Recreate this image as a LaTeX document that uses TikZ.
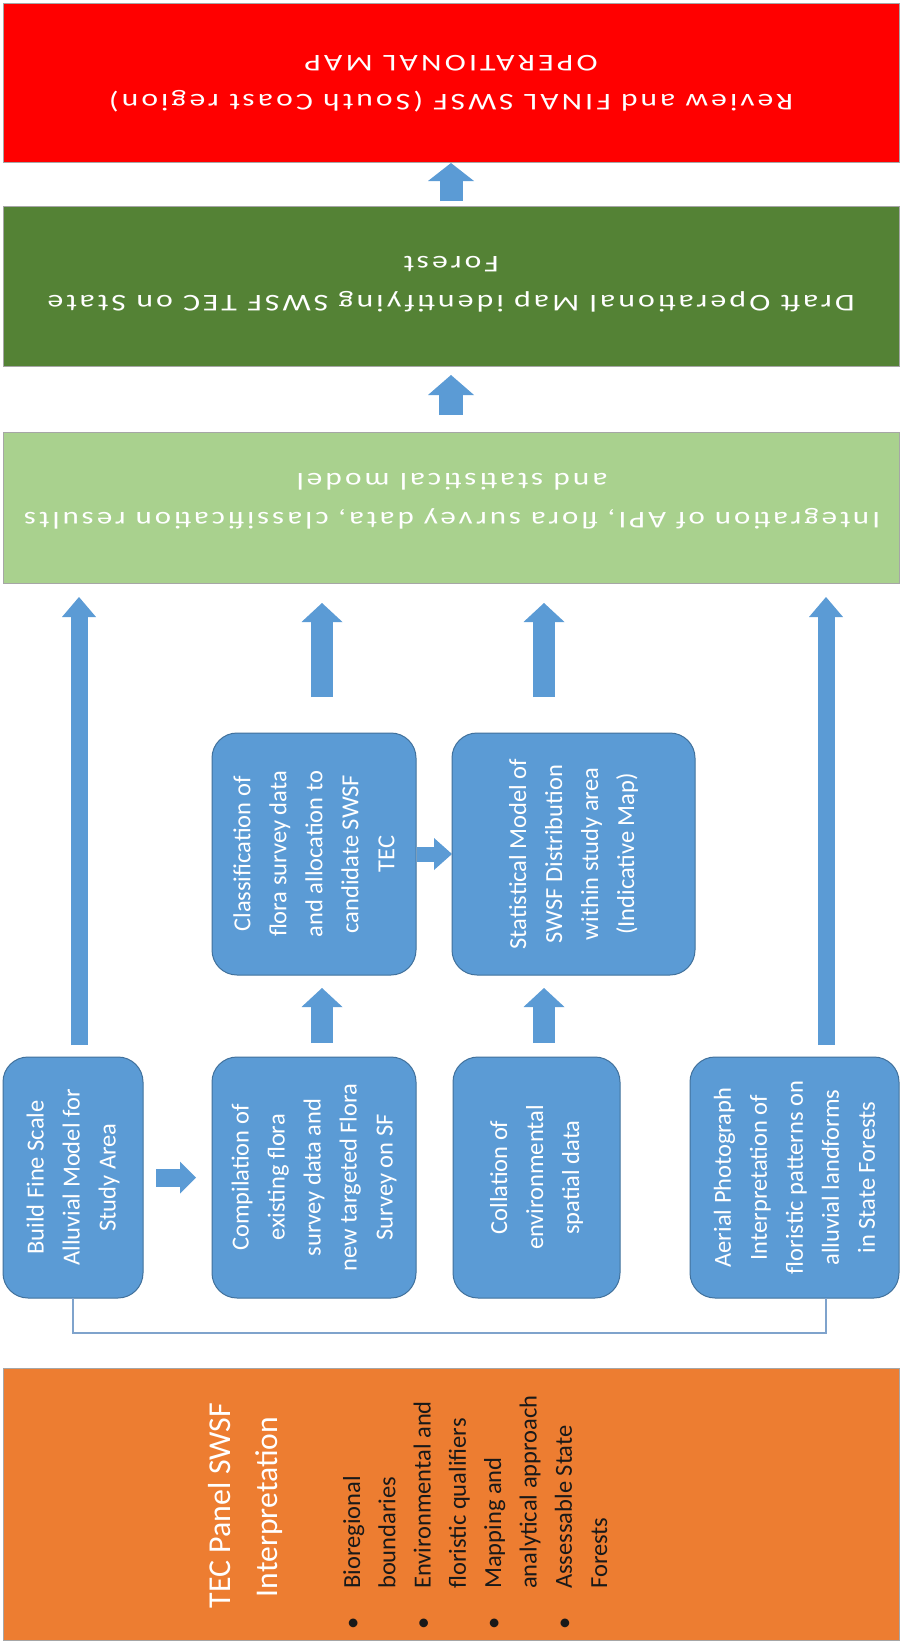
\documentclass[tikz,border=0pt]{standalone}
\usepackage{graphicx}
\usepackage{fontspec}
\setmainfont{Carlito}
\newfontfamily\topfont[LetterSpace=10]{Carlito}
\usetikzlibrary{arrows.meta,calc}
\definecolor{sblue}{HTML}{5B9BD5}
\definecolor{sblueb}{HTML}{41719C}
\definecolor{sred}{HTML}{FF0000}
\definecolor{sgreen}{HTML}{548235}
\definecolor{slgreen}{HTML}{A9D18E}
\definecolor{sorange}{HTML}{ED7D31}
\definecolor{sline}{HTML}{7FA3CC}
\newcommand\wl[2]{\resizebox{#1pt}{\height}{#2}}
\newcommand\bul{\makebox[0pt][c]{•}\hspace*{35pt}}
\newcommand\ind{\hspace*{35pt}}
\begin{document}
\begin{tikzpicture}[x=1pt,y=-1pt,
  topbox/.style={draw=black!35, line width=1pt, inner sep=0pt, outer sep=0pt},
  bluebox/.style={draw=sblueb, fill=sblue, line width=1pt, rounded corners=25pt, inner sep=0pt, outer sep=0pt},
  toptext/.style={rotate=180, text=white, inner sep=0pt, font=\topfont\fontsize{24}{39}\selectfont},
  btext/.style={rotate=90, text=white, align=center, inner sep=0pt, font=\fontsize{24.5}{36}\selectfont},
  ttext/.style={rotate=90, anchor=base, text=white, inner sep=0pt, font=\fontsize{31.5}{38}\selectfont},
  barrow/.style n args={3}{draw=sblue, line width=#1pt, -{Triangle[width=#2pt,length=#3pt,line width=0pt]}},
  conn/.style={draw=sline, line width=1.2pt}]
\fill[white] (0,0) rectangle (902,1642);
\useasboundingbox (0,0) rectangle (902,1642);

% top boxes
\node[topbox, fill=sred, minimum width=896pt, minimum height=159pt] (red) at (451,82.5) {};
\node[topbox, fill=sgreen, minimum width=896pt, minimum height=160pt] (green) at (451,286) {};
\node[topbox, fill=slgreen, minimum width=896pt, minimum height=151pt] (lgreen) at (451,507.5) {};
\node[toptext] (redt) at (451,83) {\begin{tabular}{@{}c@{}}\wl{684}{Review and FINAL SWSF (South Coast region)}\\ \wl{293}{OPERATIONAL MAP}\end{tabular}};
\node[toptext] (greent) at (451,284) {\begin{tabular}{@{}c@{}}\wl{807}{Draft Operational Map identifying SWSF TEC on State}\\ \wl{95}{Forest}\end{tabular}};
\node[toptext] (lgreent) at (452,501) {\begin{tabular}{@{}c@{}}\wl{856}{Integration of API, flora survey data, classification results}\\ \wl{311}{and statistical model}\end{tabular}};

% blue boxes
\node[bluebox, minimum width=204pt, minimum height=242pt] (class) at (314,854) {};
\node[bluebox, minimum width=243pt, minimum height=242pt] (stat) at (573.5,854) {};
\node[bluebox, minimum width=140pt, minimum height=241pt] (build) at (73,1177.5) {};
\node[bluebox, minimum width=204pt, minimum height=241pt] (compil) at (314,1177.5) {};
\node[bluebox, minimum width=167pt, minimum height=241pt] (collat) at (536.5,1177.5) {};
\node[bluebox, minimum width=209pt, minimum height=241pt] (aerial) at (794.5,1177.5) {};

\node[btext] (classt) at (class) {Classification of\\flora survey data\\and allocation to\\candidate SWSF\\TEC};
\node[btext] (statt) at (stat) {Statistical Model of\\SWSF Distribution\\within study area\\(Indicative Map)};
\node[btext] (buildt) at (build) {Build Fine Scale\\Alluvial Model for\\Study Area};
\node[btext] (compilt) at (compil) {Compilation of\\existing flora\\survey data and\\new targeted Flora\\Survey on SF};
\node[btext] (collatt) at (collat) {Collation of\\environmental\\spatial data};
\node[btext] (aerialt) at (aerial) {Aerial Photograph\\Interpretation of\\floristic patterns on\\alluvial landforms\\in State Forests};

% orange box
\node[topbox, fill=sorange, minimum width=896pt, minimum height=272pt] (orange) at (451,1504) {};
\node[ttext] (oranget1) at (230,1505.5) {\resizebox{205pt}{!}{TEC Panel SWSF}};
\node[ttext] (oranget2) at (277,1507) {\resizebox{180pt}{!}{Interpretation}};
\node[rotate=90, anchor=base west, text=black!90, inner sep=0pt, font=\fontsize{24.5}{35.3}\selectfont] (orangel) at (360,1624)
  {\begin{tabular}[t]{@{}l@{}}
   \bul Bioregional\\
   \ind boundaries\\
   \bul Environmental and\\
   \ind floristic qualifiers\\
   \bul Mapping and\\
   \ind analytical approach\\
   \bul Assessable State\\
   \ind Forests
   \end{tabular}};

% connectors
\draw[barrow={23}{46}{18}, shorten <=5pt, shorten >=1pt] (green.north) -- (red.south);
\draw[barrow={24}{46}{20}, shorten <=17pt, shorten >=9pt] (lgreen.north) -- (green.south);

\coordinate (ll) at ([xshift=6pt]build.north);
\coordinate (rr) at ([xshift=31.5pt]aerial.north);
\draw[barrow={17}{34}{20}, shorten <=12pt, shorten >=14pt] (ll) -- (ll |- lgreen.south);
\draw[barrow={17}{34}{20}, shorten <=12pt, shorten >=14pt] (rr) -- (rr |- lgreen.south);

\coordinate (m1) at ([xshift=8pt]class.north);
\coordinate (m2) at ([xshift=-29.5pt]stat.north);
\draw[barrow={22}{41}{19}, shorten <=36pt, shorten >=20pt] (m1) -- (m1 |- lgreen.south);
\draw[barrow={22}{41}{19}, shorten <=36pt, shorten >=20pt] (m2) -- (m2 |- lgreen.south);

\coordinate (b1) at ([xshift=8pt]compil.north);
\coordinate (b2) at ([xshift=7.5pt]collat.north);
\draw[barrow={22}{41}{19}, shorten <=14pt, shorten >=13pt] (b1) -- (b1 |- class.south);
\draw[barrow={22}{41}{19}, shorten <=14pt, shorten >=13pt] (b2) -- (b2 |- stat.south);

\draw[barrow={15}{32}{18}, shorten <=1pt] (class.east) -- (stat.west);
\draw[barrow={18}{32}{16}, shorten <=13pt, shorten >=16pt] (build.east) -- (compil.west);

\coordinate (af) at ([xshift=31.5pt]aerial.south);
\draw[conn] (build.south) -- ++(0,35) -| (af);
\end{tikzpicture}
\end{document}
